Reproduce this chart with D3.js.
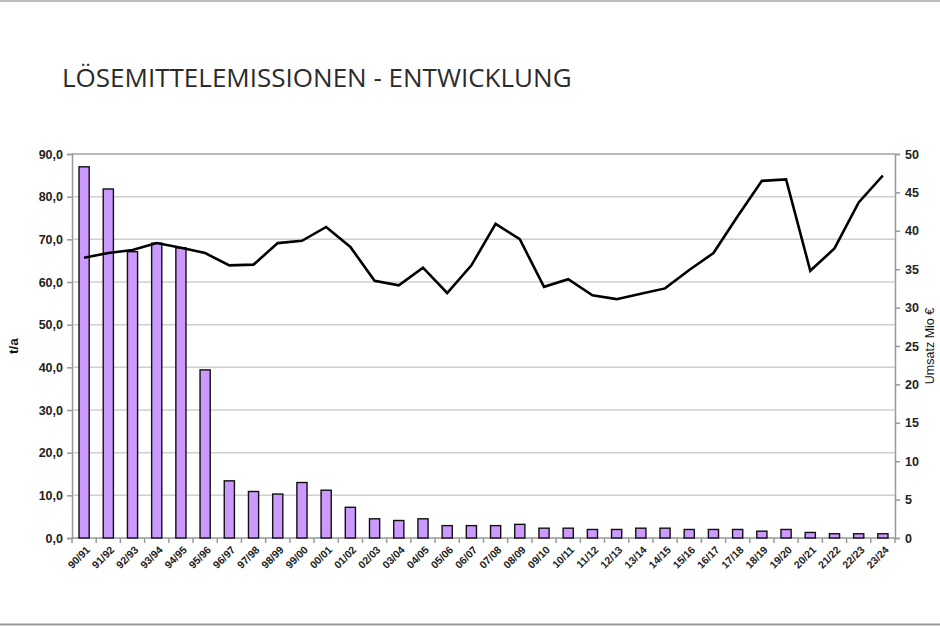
<!DOCTYPE html>
<html>
<head>
<meta charset="utf-8">
<script src="https://cdn.jsdelivr.net/npm/d3@7"></script>
<style>
  html, body { margin: 0; padding: 0; background: #fff; }
  svg { display: block; }
</style>
</head>
<body>
<svg id="chart" width="940" height="626"></svg>
<script>
const categories = ["90/91","91/92","92/93","93/94","94/95","95/96","96/97","97/98","98/99","99/00",
  "00/01","01/02","02/03","03/04","04/05","05/06","06/07","07/08","08/09","09/10",
  "10/11","11/12","12/13","13/14","14/15","15/16","16/17","17/18","18/19","19/20",
  "20/21","21/22","22/23","23/24"];
const emissions = [87.0, 81.8, 67.1, 69.1, 68.0, 39.4, 13.4, 10.9, 10.3, 13.0,
  11.2, 7.2, 4.5, 4.1, 4.5, 2.9, 2.9, 2.9, 3.2, 2.3,
  2.3, 2.0, 2.0, 2.3, 2.3, 2.0, 2.0, 2.0, 1.6, 2.0,
  1.3, 1.0, 1.0, 1.0];
const umsatz = [36.5, 37.1, 37.5, 38.4, 37.8, 37.1, 35.5, 35.6, 38.4, 38.7,
  40.5, 37.9, 33.5, 32.9, 35.2, 31.9, 35.5, 40.9, 38.9, 32.7,
  33.7, 31.6, 31.1, 31.8, 32.5, 34.9, 37.1, 41.9, 46.5, 46.7,
  34.8, 37.7, 43.7, 47.2];
const leftTicks = [0,10,20,30,40,50,60,70,80,90];
const rightTicks = [0,5,10,15,20,25,30,35,40,45,50];
const title = "LÖSEMITTELEMISSIONEN - ENTWICKLUNG";
const leftLabel = "t/a";
const rightLabel = "Umsatz Mio €";

const svg = d3.select("#chart");
const W = 940, H = 626;
const m = {left: 72, right: 895, top: 154, bottom: 538};

// page frame lines
svg.append("line").attr("x1",0).attr("x2",W).attr("y1",1).attr("y2",1)
  .attr("stroke","#bdbdbd").attr("stroke-width",2);
svg.append("line").attr("x1",0).attr("x2",W).attr("y1",624.5).attr("y2",624.5)
  .attr("stroke","#9a9a9a").attr("stroke-width",2);

// title
const t = svg.append("text").attr("x",62).attr("y",87)
  .attr("font-family","'Open Sans', 'Noto Sans', sans-serif")
  .attr("font-size",26).attr("fill","#2b2b2b").text(title);
const tw = t.node().getComputedTextLength();
t.attr("font-size", 26 * 510 / tw);

const x = d3.scaleBand().domain(categories).range([m.left, m.right]).paddingInner(0.58).paddingOuter(0.29);
const xStep = d3.scaleBand().domain(categories).range([m.left, m.right]);
const yL = d3.scaleLinear().domain([0,90]).range([m.bottom, m.top]);
const yR = d3.scaleLinear().domain([0,50]).range([m.bottom, m.top]);

// gridlines
svg.append("g").selectAll("line").data(leftTicks.filter(d=>d>0)).join("line")
  .attr("x1",m.left).attr("x2",m.right)
  .attr("y1",d=>yL(d)).attr("y2",d=>yL(d))
  .attr("stroke", d => d===90 ? "#a0a0a0" : "#cfcfcf").attr("stroke-width",1.5);

// left axis
const gL = svg.append("g").attr("transform",`translate(${m.left},0)`)
  .call(d3.axisLeft(yL).tickValues(leftTicks).tickSize(5).tickPadding(4)
    .tickFormat(d => d3.format(".1f")(d).replace(".", ",")));
gL.select(".domain").attr("stroke","#999").attr("stroke-width",1.5);
gL.selectAll(".tick line").attr("stroke","#999").attr("stroke-width",1.5);
gL.selectAll(".tick text").attr("font-family","'Liberation Sans', Arial, sans-serif")
  .attr("font-size",12.5).attr("font-weight","bold").attr("fill","#222");

// right axis
const gR = svg.append("g").attr("transform",`translate(${m.right},0)`)
  .call(d3.axisRight(yR).tickValues(rightTicks).tickSize(5).tickPadding(5));
gR.select(".domain").attr("stroke","#999").attr("stroke-width",1.5);
gR.selectAll(".tick line").attr("stroke","#999").attr("stroke-width",1.5);
gR.selectAll(".tick text").attr("font-family","'Liberation Sans', Arial, sans-serif")
  .attr("font-size",12.5).attr("font-weight","bold").attr("fill","#222");

// bottom axis
const gB = svg.append("g").attr("transform",`translate(0,${m.bottom})`);
gB.append("line").attr("x1",m.left).attr("x2",m.right).attr("y1",0).attr("y2",0)
  .attr("stroke","#999").attr("stroke-width",1.5);
gB.selectAll("line.tk").data(categories.concat(["__end"])).join("line").attr("class","tk")
  .attr("x1",(d,i)=> m.left + i*xStep.step()).attr("x2",(d,i)=> m.left + i*xStep.step())
  .attr("y1",0).attr("y2",5).attr("stroke","#999").attr("stroke-width",1.5);
gB.selectAll("text").data(categories).join("text")
  .attr("transform", d => `translate(${xStep(d)+xStep.bandwidth()/2+4},${10}) rotate(-45)`)
  .attr("text-anchor","end").attr("dy","0.35em")
  .attr("font-family","'Liberation Sans', Arial, sans-serif")
  .attr("font-size",10.5).attr("font-weight","bold").attr("fill","#222")
  .text(d=>d);

// bars
svg.append("g").selectAll("rect").data(categories).join("rect")
  .attr("x", d => x(d))
  .attr("width", x.bandwidth())
  .attr("y", (d,i) => yL(emissions[i]))
  .attr("height", (d,i) => yL(0) - yL(emissions[i]))
  .attr("fill","#cc99ff").attr("stroke","#111").attr("stroke-width",1.4);

// line
const line = d3.line().x((d,i)=> xStep(categories[i]) + xStep.bandwidth()/2).y(d=>yR(d));
svg.append("path").datum(umsatz).attr("d", line)
  .attr("fill","none").attr("stroke","#000").attr("stroke-width",2.6).attr("stroke-linejoin","miter");

// axis titles
svg.append("text").attr("transform",`translate(18,${346}) rotate(-90)`)
  .attr("text-anchor","middle").attr("font-family","'Liberation Sans', Arial, sans-serif")
  .attr("font-size",13.5).attr("font-weight","bold").attr("fill","#111").text(leftLabel);
svg.append("text").attr("transform",`translate(934,${346}) rotate(-90)`)
  .attr("text-anchor","middle").attr("font-family","'Liberation Sans', Arial, sans-serif")
  .attr("font-size",12.5).attr("fill","#111").text(rightLabel);
</script>
</body>
</html>
